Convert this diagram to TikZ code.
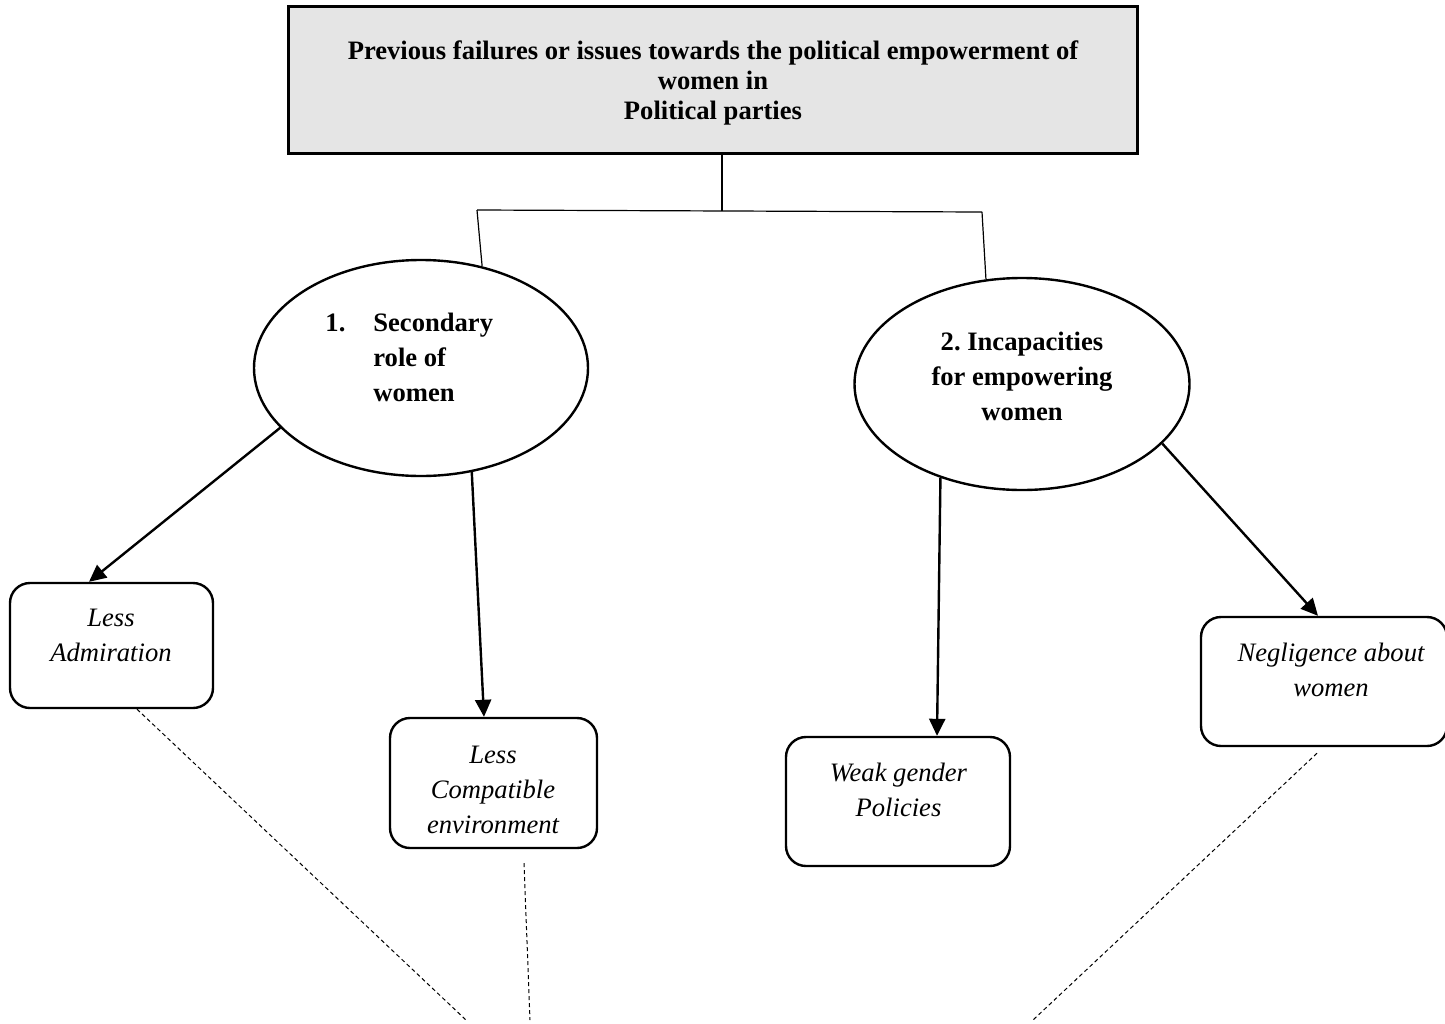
\documentclass[tikz,border=0pt]{standalone}
\usepackage{fontspec}
\setmainfont{Liberation Serif}
\usetikzlibrary{arrows.meta,shapes.geometric}
\frenchspacing
\begin{document}
\begin{tikzpicture}[x=0.5pt,y=-0.5pt,
  headbox/.style={draw, line width=1.5pt, fill=black!10, inner sep=0,
    minimum width=424.5pt, minimum height=73.5pt},
  topic/.style={draw, ellipse, line width=1.2pt, inner sep=0},
  item/.style={draw, rounded corners=10pt, line width=1.2pt, inner sep=0},
  txt/.style={inner sep=0, align=center, font=\fontsize{13.3pt}{17.5pt}\selectfont},
  branch/.style={line width=0.6pt},
  arr/.style={line width=1.2pt, -{Triangle[length=8.5pt,width=8pt]}},
  link/.style={line width=0.5pt, dash pattern=on 2pt off 1.5pt}
]
\useasboundingbox (0,0) rectangle (1445,1023);

% heading
\node[headbox] (top) at (712.5,79.5) {};
\node[txt, font=\bfseries\fontsize{13.3pt}{15pt}\selectfont] (toptxt) at (713,83)
  {Previous failures or issues towards the political empowerment of\\women in\\Political parties};

% two main groups
\node[topic, minimum width=167pt, minimum height=108pt] (e1) at (421,368) {};
\node[txt, align=left, anchor=west, font=\bfseries\fontsize{13.3pt}{17.5pt}\selectfont] (e1txt) at (373,357)
  {\llap{1.\hspace{14pt}}Secondary\\role of\\women};

\node[topic, minimum width=167.5pt, minimum height=106pt] (e2) at (1022,384) {};
\node[txt, font=\bfseries\fontsize{13.3pt}{17.5pt}\selectfont] (e2txt) at (1022,376)
  {2. Incapacities\\for empowering\\women};

% tree connectors
\coordinate (jm) at (722,211);
\coordinate (jl) at (477,210);
\coordinate (jr) at (982,212);
\draw[branch] ([xshift=4.75pt]top.south) -- (jm);
\draw[branch] (jl) -- (jr);
\draw[branch] (jl) -- (e1.59);
\draw[branch] (jr) -- (e2.109);

% items
\node[item, minimum width=101.5pt, minimum height=62.5pt] (adm) at (111.5,645.5) {};
\node[txt, font=\itshape\fontsize{13.3pt}{17.5pt}\selectfont] (admtxt) at (111,635.5) {Less\\Admiration};

\node[item, minimum width=103.5pt, minimum height=65pt] (comp) at (493.5,783) {};
\node[txt, font=\itshape\fontsize{13.3pt}{17.5pt}\selectfont] (comptxt) at (493,789.5) {Less\\Compatible\\environment};

\node[item, minimum width=112pt, minimum height=64.5pt] (weak) at (898,801.5) {};
\node[txt, font=\itshape\fontsize{13.3pt}{17.5pt}\selectfont] (weaktxt) at (898.5,790) {Weak gender\\Policies};

\node[item, minimum width=123pt, minimum height=64.5pt] (neg) at (1324,681.5) {};
\node[txt, font=\itshape\fontsize{13.3pt}{17.5pt}\selectfont] (negtxt) at (1331,669.5) {Negligence about\\women};

% arrows
\draw[arr] (e1.203.6) -- ([xshift=-11.25pt]adm.north);
\draw[arr] (e1.-64) -- ([xshift=-4.75pt]comp.north);
\draw[arr] (e2.-131) -- ([xshift=19.5pt]weak.north);
\draw[arr] (e2.-23.8) -- ([xshift=-3pt]neg.north);

% dashed links
\coordinate (d1) at (466,1020);
\coordinate (d2) at (530,1020);
\coordinate (d3) at (1033,1020);
\draw[link] ([xshift=12.75pt]adm.south) -- (d1);
\draw[link] ([xshift=15.25pt,yshift=-7pt]comp.south) -- (d2);
\draw[link] ([xshift=-3.5pt,yshift=-3pt]neg.south) -- (d3);
\end{tikzpicture}
\end{document}
